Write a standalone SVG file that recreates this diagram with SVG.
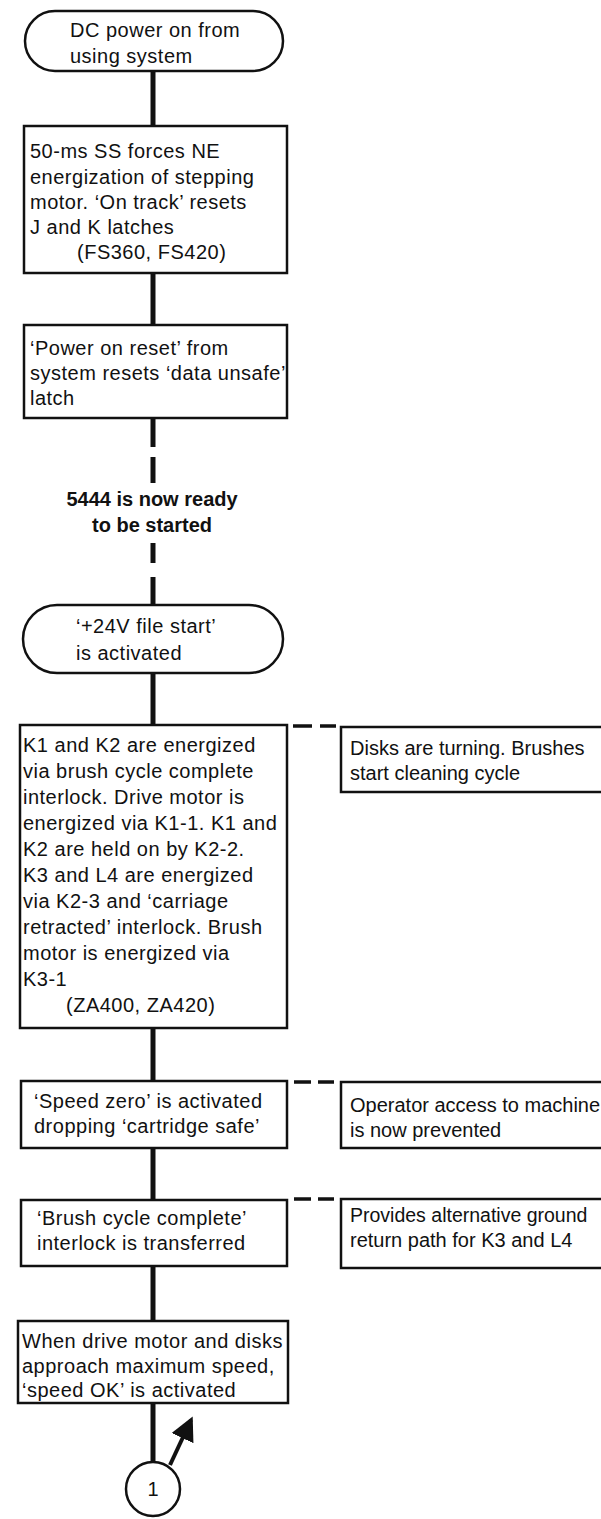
<svg xmlns="http://www.w3.org/2000/svg" width="601" height="1519" viewBox="0 0 601 1519">
<style>
.bx{fill:#fff;stroke:#111;stroke-width:2.5}
.t{font-family:"Liberation Sans",Arial,Helvetica,sans-serif;font-size:20px;letter-spacing:0.5px;fill:#111}
.s{font-family:"Liberation Sans",Arial,Helvetica,sans-serif;font-size:20px;letter-spacing:0px;fill:#111}
.b{font-family:"Liberation Sans",Arial,Helvetica,sans-serif;font-size:20px;font-weight:bold;fill:#111}
.c{stroke:#111;stroke-width:5;fill:none}
.d{stroke:#111;stroke-width:3.5;fill:none}
</style>
<defs>
<marker id="ah" markerWidth="6" markerHeight="6" refX="5" refY="3" orient="auto" markerUnits="strokeWidth">
<path d="M0,0 L6,3 L0,6 Z" fill="#111"/>
</marker>
</defs>
<rect width="601" height="1519" fill="#fff"/>
<g id="connectors">
<line class="c" x1="153" y1="71" x2="153" y2="126"/>
<line class="c" x1="153" y1="273" x2="153" y2="325"/>
<line class="c" x1="153" y1="418" x2="153" y2="447"/>
<line class="c" x1="153" y1="457" x2="153" y2="483"/>
<line class="c" x1="153" y1="543" x2="153" y2="563"/>
<line class="c" x1="153" y1="577" x2="153" y2="605"/>
<line class="c" x1="153" y1="673" x2="153" y2="725"/>
<line class="c" x1="153" y1="1028" x2="153" y2="1081"/>
<line class="c" x1="153" y1="1148" x2="153" y2="1200"/>
<line class="c" x1="153" y1="1266" x2="153" y2="1321"/>
<line class="c" x1="153" y1="1403" x2="153" y2="1462"/>
<line class="d" x1="293" y1="726" x2="312" y2="726"/>
<line class="d" x1="320" y1="726" x2="336" y2="726"/>
<line class="d" x1="294" y1="1082" x2="311" y2="1082"/>
<line class="d" x1="318" y1="1082" x2="334" y2="1082"/>
<line class="d" x1="294" y1="1199" x2="311" y2="1199"/>
<line class="d" x1="318" y1="1199" x2="334" y2="1199"/>
<line x1="170" y1="1465" x2="191" y2="1420" stroke="#111" stroke-width="4" marker-end="url(#ah)"/>
</g>
<g id="n1">
<rect class="bx" x="25" y="11" width="258" height="60" rx="30"/>
<text class="t" x="70" y="37">DC power on from</text>
<text class="t" x="70" y="63">using system</text>
</g>
<g id="n2">
<rect class="bx" x="24" y="126" width="263" height="147"/>
<text class="t" x="30" y="158">50-ms SS forces NE</text>
<text class="t" x="30" y="184">energization of stepping</text>
<text class="t" x="30" y="209">motor.  ‘On track’ resets</text>
<text class="t" x="30" y="234">J and K latches</text>
<text class="t" x="77" y="259">(FS360, FS420)</text>
</g>
<g id="n3">
<rect class="bx" x="24" y="325" width="263" height="93"/>
<text class="t" x="30" y="355">‘Power on reset’ from</text>
<text class="t" x="30" y="380">system resets ‘data unsafe’</text>
<text class="t" x="30" y="405">latch</text>
</g>
<g id="n4">
<text class="b" x="152" y="506" text-anchor="middle">5444 is now ready</text>
<text class="b" x="152" y="532" text-anchor="middle">to be started</text>
</g>
<g id="n5">
<rect class="bx" x="23" y="605" width="260" height="68" rx="34"/>
<text class="t" x="76" y="633">‘+24V file start’</text>
<text class="t" x="76" y="660">is activated</text>
</g>
<g id="n6">
<rect class="bx" x="20" y="725" width="267" height="303"/>
<text class="t" x="23" y="752">K1 and K2 are energized</text>
<text class="t" x="23" y="778">via brush cycle complete</text>
<text class="t" x="23" y="804">interlock.  Drive motor is</text>
<text class="t" x="23" y="830">energized via K1-1.  K1 and</text>
<text class="t" x="23" y="856">K2 are held on by K2-2.</text>
<text class="t" x="23" y="882">K3 and L4 are energized</text>
<text class="t" x="23" y="908">via K2-3 and ‘carriage</text>
<text class="t" x="23" y="934">retracted’ interlock.  Brush</text>
<text class="t" x="23" y="960">motor is energized via</text>
<text class="t" x="23" y="986">K3-1</text>
<text class="t" x="66" y="1012">(ZA400, ZA420)</text>
</g>
<g id="n7">
<rect class="bx" x="341" y="727" width="280" height="65"/>
<text class="s" x="350" y="755">Disks are turning.  Brushes</text>
<text class="s" x="350" y="780">start cleaning cycle</text>
</g>
<g id="n8">
<rect class="bx" x="21" y="1081" width="266" height="67"/>
<text class="t" x="34" y="1108">‘Speed zero’ is activated</text>
<text class="t" x="34" y="1133">dropping ‘cartridge safe’</text>
</g>
<g id="n9">
<rect class="bx" x="341" y="1082" width="280" height="66"/>
<text class="s" x="350" y="1112" font-size="19.5">Operator access to machine</text>
<text class="s" x="350" y="1137">is now prevented</text>
</g>
<g id="n10">
<rect class="bx" x="21" y="1200" width="266" height="66"/>
<text class="t" x="37" y="1225">‘Brush cycle complete’</text>
<text class="t" x="37" y="1250">interlock is transferred</text>
</g>
<g id="n11">
<rect class="bx" x="341" y="1199" width="280" height="69"/>
<text class="s" x="350" y="1222" style="font-size:19.5px">Provides alternative ground</text>
<text class="s" x="350" y="1247">return path for K3 and L4</text>
</g>
<g id="n12">
<rect class="bx" x="18" y="1321" width="270" height="82"/>
<text class="t" x="22" y="1348">When drive motor and disks</text>
<text class="t" x="22" y="1373">approach maximum speed,</text>
<text class="t" x="22" y="1397">‘speed OK’ is activated</text>
</g>
<g id="n13">
<circle class="bx" cx="153" cy="1489" r="27"/>
<text class="s" x="153" y="1496" text-anchor="middle">1</text>
</g>
</svg>
